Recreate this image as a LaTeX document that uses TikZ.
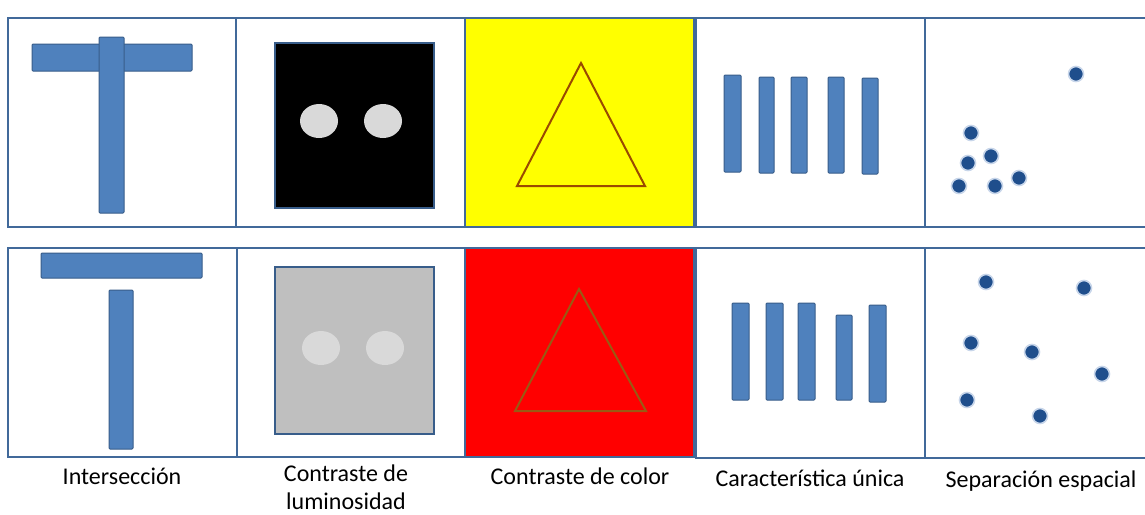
\documentclass[tikz,border=0pt]{standalone}
\usepackage{fontspec}
\setmainfont{Carlito}
\usetikzlibrary{shapes.geometric}
\begin{document}
\begin{tikzpicture}[x=1pt,y=-1pt,
  panel/.style={draw=panelblue,line width=2.8pt},
  bar/.style={fill=barfill,draw=bardraw,line width=1pt,rounded corners=1pt},
  dot/.style={circle,fill=dotfill,draw=dothalo,line width=1.6pt,minimum size=15pt,inner sep=0pt},
  lum/.style={ellipse,fill=#1,minimum width=38pt,minimum height=34pt,inner sep=0pt},
  lbl/.style={font=\fontsize{24}{28}\selectfont,align=center,text=black,inner sep=0pt}]
\definecolor{panelblue}{HTML}{41699A}
\definecolor{barfill}{HTML}{4F81BD}
\definecolor{bardraw}{HTML}{385D8A}
\definecolor{dotfill}{HTML}{1F4E8C}
\definecolor{dothalo}{HTML}{C8D6EA}
\definecolor{tri1}{HTML}{9A4A00}
\definecolor{tri2}{HTML}{9A5A14}
\definecolor{pureyellow}{RGB}{255,255,0}
\useasboundingbox (0,0) rectangle (1145,514);
\fill[white] (0,0) rectangle (1145,514);
\begin{scope}
\clip (0,0) rectangle (1145,514);
% ---------- top row ----------
\fill[pureyellow] (465,18) rectangle (694,227);
\draw[panel] (8,18) rectangle (236,227);
\draw[panel] (236,18) rectangle (465,227);
\draw[panel] (465,18) rectangle (694,227);
\draw[panel] (696,18) rectangle (925,227);
\draw[panel] (925,18) rectangle (1150,227);
% T intersection
\draw[bar] (32,44) rectangle (192,71);
\draw[bar] (99,37) rectangle (124,213);
% luminance
\draw[fill=black,draw=bardraw,line width=1.2pt] (275,43) rectangle (434,208);
\node[lum={white!85!black}] (c1) at (319,121) {};
\node[lum={white!85!black}] (c2) at (383,121) {};
% colour
\draw[tri1,line width=2pt,line join=miter] (581,63) -- (645,186) -- (517,186) -- cycle;
% bars
\draw[bar] (724,75) rectangle (741,172);
\draw[bar] (759,77) rectangle (774,173);
\draw[bar] (791,77) rectangle (807,173);
\draw[bar] (828,77) rectangle (844,173);
\draw[bar] (862,78) rectangle (878,174);
% dots
\node[dot] (a1) at (1076,74) {};
\node[dot] (a2) at (971,133) {};
\node[dot] (a3) at (991,156) {};
\node[dot] (a4) at (968,163) {};
\node[dot] (a5) at (959,186) {};
\node[dot] (a6) at (995,186) {};
\node[dot] (a7) at (1019,178) {};
% ---------- bottom row ----------
\fill[red] (465,248) rectangle (694,457);
\draw[panel] (8,248) rectangle (237,457);
\draw[panel] (237,248) rectangle (465,457);
\draw[panel] (465,248) rectangle (694,457);
\draw[panel] (696,248) rectangle (925,458);
\draw[panel] (925,248) rectangle (1150,458);
% T separated
\draw[bar] (41,253) rectangle (202,278);
\draw[bar] (109,290) rectangle (133,449);
% luminance low
\draw[fill={white!75!black},draw=bardraw,line width=1.2pt] (275,267) rectangle (434,434);
\node[lum={white!85!black}] (c3) at (321,348) {};
\node[lum={white!85!black}] (c4) at (385,348) {};
% colour
\draw[tri2,line width=2pt,line join=miter] (579,289) -- (646,411) -- (515,411) -- cycle;
% bars
\draw[bar] (732,303) rectangle (749,400);
\draw[bar] (766,303) rectangle (783,400);
\draw[bar] (798,303) rectangle (815,400);
\draw[bar] (836,315) rectangle (852,400);
\draw[bar] (869,305) rectangle (886,402);
% dots
\node[dot] (b1) at (986,282) {};
\node[dot] (b2) at (1084,288) {};
\node[dot] (b3) at (971,343) {};
\node[dot] (b4) at (1032,352) {};
\node[dot] (b5) at (1102,374) {};
\node[dot] (b6) at (967,400) {};
\node[dot] (b7) at (1040,416) {};
\end{scope}
% ---------- labels ----------
\node[lbl] (l1) at (122,476) {Intersección};
\node[lbl] (l2) at (346,487) {Contraste de\\luminosidad};
\node[lbl] (l3) at (580,476) {Contraste de color};
\node[lbl] (l4) at (810,478) {Característica única};
\node[lbl] (l5) at (1041,481) {Separación espacial};
\end{tikzpicture}
\end{document}
